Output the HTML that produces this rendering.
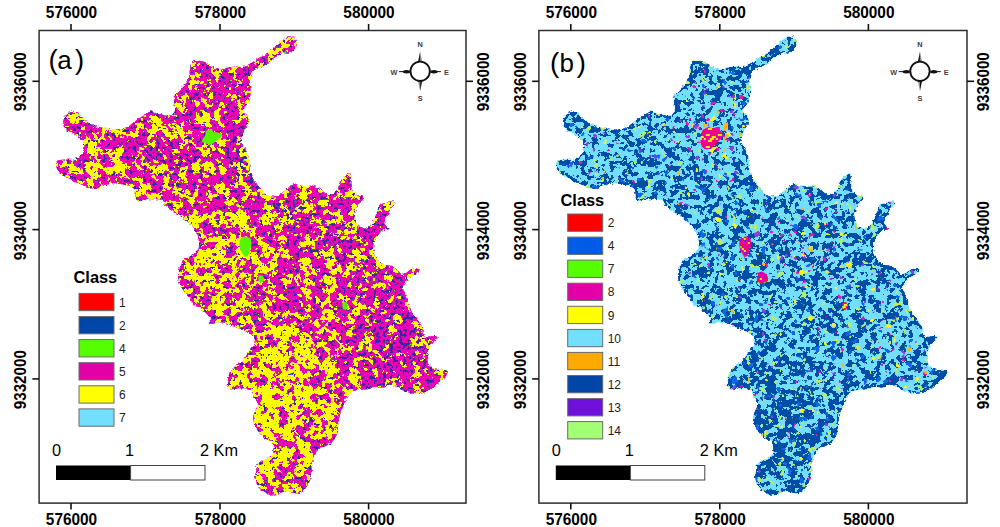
<!DOCTYPE html>
<html><head><meta charset="utf-8"><title>Classification maps</title>
<style>
html,body{margin:0;padding:0;background:#fff;width:1000px;height:527px;overflow:hidden}
svg{display:block}
text{font-family:"Liberation Sans",sans-serif}
</style></head><body>
<svg width="1000" height="527" viewBox="0 0 1000 527">
<defs>
<filter id="soft" x="-10%" y="-10%" width="120%" height="120%"><feGaussianBlur stdDeviation="0.6"/></filter>
<pattern id="hot1" width="12" height="12" patternUnits="userSpaceOnUse"><rect x="0" y="0" width="2" height="2" fill="#E600A9"/><rect x="2" y="0" width="2" height="2" fill="#E600A9"/><rect x="4" y="0" width="2" height="2" fill="#FF1040"/><rect x="6" y="0" width="2" height="2" fill="#E600A9"/><rect x="8" y="0" width="2" height="2" fill="#E600A9"/><rect x="10" y="0" width="2" height="2" fill="#FF1040"/><rect x="0" y="2" width="2" height="2" fill="#E600A9"/><rect x="2" y="2" width="2" height="2" fill="#F0F000"/><rect x="4" y="2" width="2" height="2" fill="#F0F000"/><rect x="6" y="2" width="2" height="2" fill="#E600A9"/><rect x="8" y="2" width="2" height="2" fill="#FF1040"/><rect x="10" y="2" width="2" height="2" fill="#E600A9"/><rect x="0" y="4" width="2" height="2" fill="#E600A9"/><rect x="2" y="4" width="2" height="2" fill="#E600A9"/><rect x="4" y="4" width="2" height="2" fill="#E600A9"/><rect x="6" y="4" width="2" height="2" fill="#E600A9"/><rect x="8" y="4" width="2" height="2" fill="#F0F000"/><rect x="10" y="4" width="2" height="2" fill="#F0F000"/><rect x="0" y="6" width="2" height="2" fill="#F0F000"/><rect x="2" y="6" width="2" height="2" fill="#E600A9"/><rect x="4" y="6" width="2" height="2" fill="#E600A9"/><rect x="6" y="6" width="2" height="2" fill="#F0F000"/><rect x="8" y="6" width="2" height="2" fill="#F0F000"/><rect x="10" y="6" width="2" height="2" fill="#E600A9"/><rect x="0" y="8" width="2" height="2" fill="#E600A9"/><rect x="2" y="8" width="2" height="2" fill="#E600A9"/><rect x="4" y="8" width="2" height="2" fill="#F0F000"/><rect x="6" y="8" width="2" height="2" fill="#F0F000"/><rect x="8" y="8" width="2" height="2" fill="#FF1040"/><rect x="10" y="8" width="2" height="2" fill="#E600A9"/><rect x="0" y="10" width="2" height="2" fill="#FF1040"/><rect x="2" y="10" width="2" height="2" fill="#E600A9"/><rect x="4" y="10" width="2" height="2" fill="#E600A9"/><rect x="6" y="10" width="2" height="2" fill="#E600A9"/><rect x="8" y="10" width="2" height="2" fill="#FF1040"/><rect x="10" y="10" width="2" height="2" fill="#E600A9"/></pattern><pattern id="hot2" width="12" height="12" patternUnits="userSpaceOnUse"><rect x="0" y="0" width="2" height="2" fill="#8020D0"/><rect x="2" y="0" width="2" height="2" fill="#FF1040"/><rect x="4" y="0" width="2" height="2" fill="#8020D0"/><rect x="6" y="0" width="2" height="2" fill="#8020D0"/><rect x="8" y="0" width="2" height="2" fill="#E600A9"/><rect x="10" y="0" width="2" height="2" fill="#E600A9"/><rect x="0" y="2" width="2" height="2" fill="#FF1040"/><rect x="2" y="2" width="2" height="2" fill="#E600A9"/><rect x="4" y="2" width="2" height="2" fill="#E600A9"/><rect x="6" y="2" width="2" height="2" fill="#E600A9"/><rect x="8" y="2" width="2" height="2" fill="#F0F000"/><rect x="10" y="2" width="2" height="2" fill="#E600A9"/><rect x="0" y="4" width="2" height="2" fill="#E600A9"/><rect x="2" y="4" width="2" height="2" fill="#FF1040"/><rect x="4" y="4" width="2" height="2" fill="#E600A9"/><rect x="6" y="4" width="2" height="2" fill="#FF1040"/><rect x="8" y="4" width="2" height="2" fill="#E600A9"/><rect x="10" y="4" width="2" height="2" fill="#E600A9"/><rect x="0" y="6" width="2" height="2" fill="#60E030"/><rect x="2" y="6" width="2" height="2" fill="#E600A9"/><rect x="4" y="6" width="2" height="2" fill="#E600A9"/><rect x="6" y="6" width="2" height="2" fill="#E600A9"/><rect x="8" y="6" width="2" height="2" fill="#FF1040"/><rect x="10" y="6" width="2" height="2" fill="#E600A9"/><rect x="0" y="8" width="2" height="2" fill="#E600A9"/><rect x="2" y="8" width="2" height="2" fill="#F0F000"/><rect x="4" y="8" width="2" height="2" fill="#E600A9"/><rect x="6" y="8" width="2" height="2" fill="#FF1040"/><rect x="8" y="8" width="2" height="2" fill="#8020D0"/><rect x="10" y="8" width="2" height="2" fill="#E600A9"/><rect x="0" y="10" width="2" height="2" fill="#E600A9"/><rect x="2" y="10" width="2" height="2" fill="#E600A9"/><rect x="4" y="10" width="2" height="2" fill="#F0F000"/><rect x="6" y="10" width="2" height="2" fill="#FF1040"/><rect x="8" y="10" width="2" height="2" fill="#E600A9"/><rect x="10" y="10" width="2" height="2" fill="#E600A9"/></pattern>
<clipPath id="clipShape"><path d="M289.0 36.3 L293.5 36.8 L296.4 39.7 L296.9 43.7 L295.8 48.2 L292.4 51.1 L287.8 52.8 L283.3 52.2 L279.8 54.5 L275.3 57.3 L270.7 60.7 L266.2 64.2 L260.5 67.6 L254.8 69.8 L251.4 73.3 L249.6 79.0 L250.0 84.7 L250.7 91.4 L250.2 97.1 L248.5 102.8 L244.5 107.3 L243.3 111.9 L247.3 116.4 L249.0 121.0 L247.3 125.5 L244.5 130.1 L242.8 134.7 L241.2 139.0 L240.3 141.6 L244.9 148.3 L248.2 154.9 L248.9 161.6 L249.6 169.5 L251.6 176.2 L255.5 181.5 L259.5 188.1 L264.8 193.4 L271.5 196.8 L278.1 196.1 L284.8 190.8 L290.1 186.1 L294.0 182.9 L299.3 185.6 L305.9 186.2 L312.6 185.6 L317.9 187.6 L323.2 191.6 L328.5 195.5 L333.8 193.6 L337.8 188.9 L339.8 182.3 L342.5 178.3 L345.8 175.0 L349.8 173.6 L351.1 177.0 L350.4 182.3 L351.1 187.6 L353.7 192.9 L357.7 195.5 L362.5 196.3 L363.7 199.1 L359.1 203.7 L355.7 209.4 L354.6 216.2 L355.7 223.0 L359.1 226.4 L363.7 228.7 L368.2 227.6 L372.8 223.0 L375.0 217.3 L377.3 211.6 L378.5 205.9 L380.7 203.7 L386.4 203.1 L389.8 201.4 L393.3 201.4 L395.5 203.7 L392.1 207.1 L389.8 210.5 L386.4 216.2 L384.2 221.9 L386.4 226.4 L389.8 228.7 L387.6 229.8 L383.0 229.8 L379.6 233.3 L376.2 237.8 L373.9 242.4 L373.0 249.1 L375.2 254.8 L378.7 261.6 L383.2 265.0 L388.9 265.0 L393.5 267.3 L398.0 270.7 L401.4 274.2 L406.0 273.0 L410.5 269.6 L415.1 267.9 L419.7 269.0 L418.5 272.4 L414.0 275.3 L408.3 278.7 L403.7 283.3 L402.6 287.8 L404.8 293.5 L407.5 301.8 L409.8 308.7 L413.2 314.4 L416.6 318.9 L420.0 323.5 L422.9 328.0 L422.3 332.6 L424.6 337.1 L429.2 336.6 L434.8 336.0 L437.7 337.1 L434.8 340.5 L431.4 345.1 L428.5 350.0 L426.9 356.4 L428.0 363.2 L430.3 367.8 L434.8 369.5 L440.5 370.0 L445.1 369.5 L447.9 371.8 L446.2 375.7 L442.8 379.2 L438.3 382.6 L433.7 387.1 L429.2 390.5 L423.5 392.8 L417.8 394.0 L412.1 393.4 L406.4 391.7 L400.7 389.4 L395.5 385.5 L389.7 384.4 L385.1 387.2 L380.5 387.8 L376.0 386.6 L371.4 387.8 L366.9 389.5 L361.2 389.5 L355.5 390.6 L350.9 392.3 L347.5 395.7 L345.2 400.3 L343.0 406.0 L340.7 411.7 L339.6 417.4 L338.5 421.0 L337.8 426.8 L337.2 433.7 L334.4 439.4 L329.8 443.9 L324.2 446.8 L319.6 448.5 L315.5 452.5 L313.0 458.5 L311.3 465.2 L312.1 471.9 L311.3 477.6 L308.7 483.2 L305.3 488.9 L301.9 492.3 L296.2 493.5 L290.5 492.3 L284.8 491.2 L279.1 493.5 L274.6 494.4 L268.9 494.6 L263.2 491.8 L258.7 487.8 L256.4 482.1 L255.2 476.4 L256.4 470.7 L256.4 464.5 L260.9 461.6 L267.8 458.2 L273.5 453.7 L273.5 446.8 L271.2 441.0 L265.2 438.7 L259.8 433.4 L255.9 428.1 L253.9 422.8 L253.2 416.2 L255.9 409.5 L258.5 404.2 L254.5 397.6 L251.9 390.9 L246.6 388.3 L238.6 388.3 L230.6 389.6 L226.6 385.6 L228.5 377.0 L229.9 371.3 L234.5 366.8 L240.5 362.2 L245.1 357.7 L248.1 353.1 L252.7 347.0 L255.7 342.5 L254.2 336.4 L248.1 332.6 L240.5 328.8 L231.4 325.8 L225.3 322.8 L217.8 322.0 L214.0 323.8 L208.5 323.8 L211.2 318.8 L204.1 311.2 L199.0 307.6 L195.0 305.8 L191.6 301.2 L188.2 296.7 L184.8 292.1 L181.4 287.6 L179.1 281.9 L178.0 276.2 L179.1 270.5 L180.2 264.8 L183.7 260.2 L189.4 256.8 L195.0 253.4 L198.5 250.0 L199.2 242.8 L198.0 236.0 L195.7 230.3 L191.2 224.6 L185.5 220.0 L179.8 215.5 L174.1 212.1 L168.4 208.7 L165.0 204.1 L163.0 200.1 L158.4 199.3 L153.9 199.3 L149.3 199.3 L144.7 199.3 L141.0 200.8 L137.1 201.6 L135.6 197.8 L135.6 192.5 L133.4 187.9 L129.6 185.6 L125.0 184.9 L120.0 184.0 L115.0 183.0 L110.0 184.0 L105.0 185.0 L100.0 187.0 L95.0 189.0 L90.0 188.0 L85.0 186.0 L80.0 184.0 L75.0 182.0 L70.0 179.0 L65.0 176.0 L60.0 173.0 L57.0 169.0 L56.0 165.0 L57.0 162.0 L60.0 160.0 L65.0 159.5 L73.0 160.0 L78.0 158.0 L83.0 153.0 L84.6 147.1 L83.0 141.4 L78.5 136.9 L72.8 133.5 L67.1 130.0 L63.7 126.6 L63.1 120.9 L64.8 116.4 L68.2 113.0 L73.9 111.3 L78.5 112.4 L80.7 116.4 L84.2 119.8 L89.8 123.2 L95.5 126.1 L101.2 127.8 L106.9 128.9 L113.4 130.1 L120.7 129.1 L128.0 127.0 L134.2 121.8 L140.5 117.6 L146.8 113.4 L150.9 111.3 L156.1 113.4 L161.4 114.4 L166.6 115.5 L171.8 115.5 L174.9 111.3 L174.9 106.1 L173.9 100.9 L174.9 95.7 L178.1 91.5 L182.2 87.3 L186.4 83.1 L188.5 80.0 L189.3 75.2 L190.0 69.9 L190.6 64.6 L193.3 61.3 L198.6 60.6 L203.9 62.0 L209.2 64.6 L214.5 67.9 L219.8 69.9 L223.8 68.6 L229.1 67.3 L235.8 66.6 L242.4 67.3 L246.4 65.3 L251.4 63.0 L257.1 59.0 L262.8 55.6 L268.5 52.2 L274.2 47.1 L279.8 42.5 L284.4 39.1Z"/></clipPath>
<filter id="texA" x="39" y="30" width="428" height="474" filterUnits="userSpaceOnUse" color-interpolation-filters="sRGB">
  <feTurbulence type="fractalNoise" baseFrequency="0.3" numOctaves="2" seed="9" result="dn"/>
  <feDisplacementMap in="SourceGraphic" in2="dn" scale="4" xChannelSelector="R" yChannelSelector="G" result="SG"/>
  <feTurbulence type="fractalNoise" baseFrequency="0.19" numOctaves="3" seed="7" result="nz"/>
  <feColorMatrix in="nz" type="matrix" values="1 0 0 0 0  0 1 0 0 0  0 0 1 0 0  0 0 0 0 1" result="n1a"/>
  <feTurbulence type="fractalNoise" baseFrequency="0.08" numOctaves="3" seed="17" result="nzb"/>
  <feColorMatrix in="nzb" type="matrix" values="1 0 0 0 0  0 1 0 0 0  0 0 1 0 0  0 0 0 0 1" result="n1b"/>
  <feComposite in="n1a" in2="n1b" operator="arithmetic" k1="0" k2="0.62" k3="0.68" k4="-0.15" result="n1"/>
  <feTurbulence type="fractalNoise" baseFrequency="0.3" numOctaves="2" seed="3" result="nz2"/>
  <feColorMatrix in="nz2" type="matrix" values="1 0 0 0 0  0 1 0 0 0  0 0 1 0 0  0 0 0 0 1" result="n2"/>
  <feComposite in="n1" in2="SG" operator="arithmetic" k1="0" k2="1" k3="1" k4="-0.5" result="sum"/>
  <feColorMatrix in="sum" type="matrix" values="1 0 0 0 0  1 0 0 0 0  1 0 0 0 0  0 0 0 0 1" result="r"/>
  <feComponentTransfer in="r" result="two">
    <feFuncR type="discrete" tableValues="0.91 1"/>
    <feFuncG type="discrete" tableValues="0.03 1"/>
    <feFuncB type="discrete" tableValues="0.7 0"/>
  </feComponentTransfer>
  <feColorMatrix in="sum" type="matrix" values="0 0 0 0 0  -1 0 0 0 1  0 0 0 0 0  0 0 0 0 1" result="inv"/>
  <feComposite in="n2" in2="inv" operator="arithmetic" k1="0" k2="1" k3="0.3" k4="-0.15" result="comb0"/>
  <feColorMatrix in="SG" type="matrix" values="0 1 0 0 0  0 1 0 0 0  0 1 0 0 0  0 0 0 0 1" result="srcg"/>
  <feComposite in="comb0" in2="srcg" operator="arithmetic" k1="0" k2="1" k3="1" k4="-0.5" result="comb"/>
  <feColorMatrix in="comb" type="matrix" values="0 0 0 0 0.22  0 0 0 0 0.15  0 0 0 0 0.64  0 30 0 0 -18.9" result="blu"/>
  <feComposite in="blu" in2="two" operator="over" result="c3"/>
  <feColorMatrix in="n2" type="matrix" values="0 0 0 0 0.35  0 0 0 0 0.95  0 0 0 0 0.1  0 0 30 0 -23.6" result="grn"/>
  <feComposite in="grn" in2="c3" operator="over" result="c4"/>
  <feGaussianBlur in="c4" stdDeviation="0.5" result="bl"/>
  <feComposite in="bl" in2="SG" operator="in"/>
</filter>
<filter id="texB" x="39" y="30" width="430" height="474" filterUnits="userSpaceOnUse" color-interpolation-filters="sRGB">
  <feTurbulence type="fractalNoise" baseFrequency="0.3" numOctaves="2" seed="9" result="dn"/>
  <feDisplacementMap in="SourceGraphic" in2="dn" scale="4" xChannelSelector="R" yChannelSelector="G" result="SG"/>
  <feTurbulence type="fractalNoise" baseFrequency="0.21" numOctaves="3" seed="11" result="nz"/>
  <feColorMatrix in="nz" type="matrix" values="1 0 0 0 0  0 1 0 0 0  0 0 1 0 0  0 0 0 0 1" result="n1a"/>
  <feTurbulence type="fractalNoise" baseFrequency="0.09" numOctaves="3" seed="21" result="nzb"/>
  <feColorMatrix in="nzb" type="matrix" values="1 0 0 0 0  0 1 0 0 0  0 0 1 0 0  0 0 0 0 1" result="n1b"/>
  <feComposite in="n1a" in2="n1b" operator="arithmetic" k1="0" k2="0.7" k3="0.6" k4="-0.15" result="n1"/>
  <feTurbulence type="fractalNoise" baseFrequency="0.13" numOctaves="2" seed="5" result="nz2"/>
  <feColorMatrix in="nz2" type="matrix" values="1 0 0 0 0  0 1 0 0 0  0 0 1 0 0  0 0 0 0 1" result="n2"/>
  <feColorMatrix in="nz2" type="matrix" values="0 0 0 1 0  0 0 0 1 0  0 0 0 1 0  0 0 0 0 1" result="n2a"/>
  <feColorMatrix in="SG" type="matrix" values="0 1 0 0 0  0 1 0 0 0  0 1 0 0 0  0 0 0 0 1" result="spd"/>
  <feComposite in="n2" in2="spd" operator="arithmetic" k1="0" k2="1" k3="1" k4="-0.5" result="n2b"/>
  <feComposite in="n2a" in2="spd" operator="arithmetic" k1="0" k2="1" k3="1" k4="-0.5" result="n2ab"/>
  <feComposite in="n1" in2="SG" operator="arithmetic" k1="0" k2="1" k3="1" k4="-0.5" result="sum"/>
  <feColorMatrix in="sum" type="matrix" values="1 0 0 0 0  1 0 0 0 0  1 0 0 0 0  0 0 0 0 1" result="r"/>
  <feComponentTransfer in="r" result="two">
    <feFuncR type="discrete" tableValues="0.451 0"/>
    <feFuncG type="discrete" tableValues="0.875 0.302"/>
    <feFuncB type="discrete" tableValues="1 0.659"/>
  </feComponentTransfer>
  <feColorMatrix in="n2b" type="matrix" values="0 0 0 0 0.88  0 0 0 0 0.1  0 0 0 0 0.68  30 0 0 0 -22.8" result="s1"/>
  <feComposite in="s1" in2="two" operator="over" result="c1"/>
  <feColorMatrix in="n2b" type="matrix" values="0 0 0 0 0.95  0 0 0 0 0.95  0 0 0 0 0.15  0 30 0 0 -22.5" result="s2"/>
  <feComposite in="s2" in2="c1" operator="over" result="c2"/>
  <feColorMatrix in="n2b" type="matrix" values="0 0 0 0 1  0 0 0 0 0.7  0 0 0 0 0.1  0 0 30 0 -24" result="s3"/>
  <feComposite in="s3" in2="c2" operator="over" result="c3"/>
  <feColorMatrix in="n2ab" type="matrix" values="0 0 0 0 0.55  0 0 0 0 0.25  0 0 0 0 0.85  30 0 0 0 -23.1" result="s4"/>
  <feComposite in="s4" in2="c3" operator="over" result="c4"/>
  <feColorMatrix in="n2b" type="matrix" values="0 0 0 0 0.72  0 0 0 0 0.92  0 0 0 0 0.42  -30 0 0 0 9.3" result="s5"/>
  <feComposite in="s5" in2="c4" operator="over" result="c5"/>
  <feColorMatrix in="n2b" type="matrix" values="0 0 0 0 0.06  0 0 0 0 0.4  0 0 0 0 0.9  0 -30 0 0 9.3" result="s6"/>
  <feComposite in="s6" in2="c5" operator="over" result="c6"/>
  <feGaussianBlur in="c6" stdDeviation="0.5" result="bl"/>
  <feComposite in="bl" in2="SG" operator="in"/>
</filter>
</defs>
<rect width="1000" height="527" fill="#fff"/>
<g id="pa">
<g filter="url(#texA)">
<path d="M289.0 36.3 L293.5 36.8 L296.4 39.7 L296.9 43.7 L295.8 48.2 L292.4 51.1 L287.8 52.8 L283.3 52.2 L279.8 54.5 L275.3 57.3 L270.7 60.7 L266.2 64.2 L260.5 67.6 L254.8 69.8 L251.4 73.3 L249.6 79.0 L250.0 84.7 L250.7 91.4 L250.2 97.1 L248.5 102.8 L244.5 107.3 L243.3 111.9 L247.3 116.4 L249.0 121.0 L247.3 125.5 L244.5 130.1 L242.8 134.7 L241.2 139.0 L240.3 141.6 L244.9 148.3 L248.2 154.9 L248.9 161.6 L249.6 169.5 L251.6 176.2 L255.5 181.5 L259.5 188.1 L264.8 193.4 L271.5 196.8 L278.1 196.1 L284.8 190.8 L290.1 186.1 L294.0 182.9 L299.3 185.6 L305.9 186.2 L312.6 185.6 L317.9 187.6 L323.2 191.6 L328.5 195.5 L333.8 193.6 L337.8 188.9 L339.8 182.3 L342.5 178.3 L345.8 175.0 L349.8 173.6 L351.1 177.0 L350.4 182.3 L351.1 187.6 L353.7 192.9 L357.7 195.5 L362.5 196.3 L363.7 199.1 L359.1 203.7 L355.7 209.4 L354.6 216.2 L355.7 223.0 L359.1 226.4 L363.7 228.7 L368.2 227.6 L372.8 223.0 L375.0 217.3 L377.3 211.6 L378.5 205.9 L380.7 203.7 L386.4 203.1 L389.8 201.4 L393.3 201.4 L395.5 203.7 L392.1 207.1 L389.8 210.5 L386.4 216.2 L384.2 221.9 L386.4 226.4 L389.8 228.7 L387.6 229.8 L383.0 229.8 L379.6 233.3 L376.2 237.8 L373.9 242.4 L373.0 249.1 L375.2 254.8 L378.7 261.6 L383.2 265.0 L388.9 265.0 L393.5 267.3 L398.0 270.7 L401.4 274.2 L406.0 273.0 L410.5 269.6 L415.1 267.9 L419.7 269.0 L418.5 272.4 L414.0 275.3 L408.3 278.7 L403.7 283.3 L402.6 287.8 L404.8 293.5 L407.5 301.8 L409.8 308.7 L413.2 314.4 L416.6 318.9 L420.0 323.5 L422.9 328.0 L422.3 332.6 L424.6 337.1 L429.2 336.6 L434.8 336.0 L437.7 337.1 L434.8 340.5 L431.4 345.1 L428.5 350.0 L426.9 356.4 L428.0 363.2 L430.3 367.8 L434.8 369.5 L440.5 370.0 L445.1 369.5 L447.9 371.8 L446.2 375.7 L442.8 379.2 L438.3 382.6 L433.7 387.1 L429.2 390.5 L423.5 392.8 L417.8 394.0 L412.1 393.4 L406.4 391.7 L400.7 389.4 L395.5 385.5 L389.7 384.4 L385.1 387.2 L380.5 387.8 L376.0 386.6 L371.4 387.8 L366.9 389.5 L361.2 389.5 L355.5 390.6 L350.9 392.3 L347.5 395.7 L345.2 400.3 L343.0 406.0 L340.7 411.7 L339.6 417.4 L338.5 421.0 L337.8 426.8 L337.2 433.7 L334.4 439.4 L329.8 443.9 L324.2 446.8 L319.6 448.5 L315.5 452.5 L313.0 458.5 L311.3 465.2 L312.1 471.9 L311.3 477.6 L308.7 483.2 L305.3 488.9 L301.9 492.3 L296.2 493.5 L290.5 492.3 L284.8 491.2 L279.1 493.5 L274.6 494.4 L268.9 494.6 L263.2 491.8 L258.7 487.8 L256.4 482.1 L255.2 476.4 L256.4 470.7 L256.4 464.5 L260.9 461.6 L267.8 458.2 L273.5 453.7 L273.5 446.8 L271.2 441.0 L265.2 438.7 L259.8 433.4 L255.9 428.1 L253.9 422.8 L253.2 416.2 L255.9 409.5 L258.5 404.2 L254.5 397.6 L251.9 390.9 L246.6 388.3 L238.6 388.3 L230.6 389.6 L226.6 385.6 L228.5 377.0 L229.9 371.3 L234.5 366.8 L240.5 362.2 L245.1 357.7 L248.1 353.1 L252.7 347.0 L255.7 342.5 L254.2 336.4 L248.1 332.6 L240.5 328.8 L231.4 325.8 L225.3 322.8 L217.8 322.0 L214.0 323.8 L208.5 323.8 L211.2 318.8 L204.1 311.2 L199.0 307.6 L195.0 305.8 L191.6 301.2 L188.2 296.7 L184.8 292.1 L181.4 287.6 L179.1 281.9 L178.0 276.2 L179.1 270.5 L180.2 264.8 L183.7 260.2 L189.4 256.8 L195.0 253.4 L198.5 250.0 L199.2 242.8 L198.0 236.0 L195.7 230.3 L191.2 224.6 L185.5 220.0 L179.8 215.5 L174.1 212.1 L168.4 208.7 L165.0 204.1 L163.0 200.1 L158.4 199.3 L153.9 199.3 L149.3 199.3 L144.7 199.3 L141.0 200.8 L137.1 201.6 L135.6 197.8 L135.6 192.5 L133.4 187.9 L129.6 185.6 L125.0 184.9 L120.0 184.0 L115.0 183.0 L110.0 184.0 L105.0 185.0 L100.0 187.0 L95.0 189.0 L90.0 188.0 L85.0 186.0 L80.0 184.0 L75.0 182.0 L70.0 179.0 L65.0 176.0 L60.0 173.0 L57.0 169.0 L56.0 165.0 L57.0 162.0 L60.0 160.0 L65.0 159.5 L73.0 160.0 L78.0 158.0 L83.0 153.0 L84.6 147.1 L83.0 141.4 L78.5 136.9 L72.8 133.5 L67.1 130.0 L63.7 126.6 L63.1 120.9 L64.8 116.4 L68.2 113.0 L73.9 111.3 L78.5 112.4 L80.7 116.4 L84.2 119.8 L89.8 123.2 L95.5 126.1 L101.2 127.8 L106.9 128.9 L113.4 130.1 L120.7 129.1 L128.0 127.0 L134.2 121.8 L140.5 117.6 L146.8 113.4 L150.9 111.3 L156.1 113.4 L161.4 114.4 L166.6 115.5 L171.8 115.5 L174.9 111.3 L174.9 106.1 L173.9 100.9 L174.9 95.7 L178.1 91.5 L182.2 87.3 L186.4 83.1 L188.5 80.0 L189.3 75.2 L190.0 69.9 L190.6 64.6 L193.3 61.3 L198.6 60.6 L203.9 62.0 L209.2 64.6 L214.5 67.9 L219.8 69.9 L223.8 68.6 L229.1 67.3 L235.8 66.6 L242.4 67.3 L246.4 65.3 L251.4 63.0 L257.1 59.0 L262.8 55.6 L268.5 52.2 L274.2 47.1 L279.8 42.5 L284.4 39.1Z" fill="rgb(119,126,128)"/>
<g clip-path="url(#clipShape)">
<radialGradient id="bg1"><stop offset="0" stop-color="rgb(152,122,128)" stop-opacity="1.0"/><stop offset="1" stop-color="rgb(152,122,128)" stop-opacity="0"/></radialGradient><ellipse cx="260" cy="430" rx="85" ry="100" fill="url(#bg1)"/>
<radialGradient id="bg2"><stop offset="0" stop-color="rgb(150,124,128)" stop-opacity="1.0"/><stop offset="1" stop-color="rgb(150,124,128)" stop-opacity="0"/></radialGradient><ellipse cx="285" cy="365" rx="55" ry="45" fill="url(#bg2)"/>
<radialGradient id="bg3"><stop offset="0" stop-color="rgb(135,126,128)" stop-opacity="1.0"/><stop offset="1" stop-color="rgb(135,126,128)" stop-opacity="0"/></radialGradient><ellipse cx="220" cy="265" rx="60" ry="70" fill="url(#bg3)"/>
<radialGradient id="bg4"><stop offset="0" stop-color="rgb(124,128,128)" stop-opacity="1.0"/><stop offset="1" stop-color="rgb(124,128,128)" stop-opacity="0"/></radialGradient><ellipse cx="95" cy="160" rx="45" ry="35" fill="url(#bg4)"/>
<radialGradient id="bg5"><stop offset="0" stop-color="rgb(110,138,128)" stop-opacity="1.0"/><stop offset="1" stop-color="rgb(110,138,128)" stop-opacity="0"/></radialGradient><ellipse cx="175" cy="168" rx="45" ry="32" fill="url(#bg5)"/>
<radialGradient id="bg6"><stop offset="0" stop-color="rgb(110,124,128)" stop-opacity="1.0"/><stop offset="1" stop-color="rgb(110,124,128)" stop-opacity="0"/></radialGradient><ellipse cx="215" cy="105" rx="45" ry="60" fill="url(#bg6)"/>
<radialGradient id="bg7"><stop offset="0" stop-color="rgb(118,160,128)" stop-opacity="1.0"/><stop offset="1" stop-color="rgb(118,160,128)" stop-opacity="0"/></radialGradient><ellipse cx="243" cy="160" rx="18" ry="45" fill="url(#bg7)"/>
<radialGradient id="bg8"><stop offset="0" stop-color="rgb(118,150,128)" stop-opacity="1.0"/><stop offset="1" stop-color="rgb(118,150,128)" stop-opacity="0"/></radialGradient><ellipse cx="285" cy="210" rx="30" ry="20" fill="url(#bg8)"/>
<radialGradient id="bg9"><stop offset="0" stop-color="rgb(114,136,128)" stop-opacity="1.0"/><stop offset="1" stop-color="rgb(114,136,128)" stop-opacity="0"/></radialGradient><ellipse cx="335" cy="240" rx="55" ry="55" fill="url(#bg9)"/>
<radialGradient id="bg10"><stop offset="0" stop-color="rgb(94,142,128)" stop-opacity="1.0"/><stop offset="1" stop-color="rgb(94,142,128)" stop-opacity="0"/></radialGradient><ellipse cx="400" cy="335" rx="62" ry="72" fill="url(#bg10)"/>
<path d="M289.0 36.3 L293.5 36.8 L296.4 39.7 L296.9 43.7 L295.8 48.2 L292.4 51.1 L287.8 52.8 L283.3 52.2 L279.8 54.5 L275.3 57.3 L270.7 60.7 L266.2 64.2 L260.5 67.6 L254.8 69.8 L251.4 73.3 L249.6 79.0 L250.0 84.7 L250.7 91.4 L250.2 97.1 L248.5 102.8 L244.5 107.3 L243.3 111.9 L247.3 116.4 L249.0 121.0 L247.3 125.5 L244.5 130.1 L242.8 134.7 L241.2 139.0 L240.3 141.6 L244.9 148.3 L248.2 154.9 L248.9 161.6 L249.6 169.5 L251.6 176.2 L255.5 181.5 L259.5 188.1 L264.8 193.4 L271.5 196.8 L278.1 196.1 L284.8 190.8 L290.1 186.1 L294.0 182.9 L299.3 185.6 L305.9 186.2 L312.6 185.6 L317.9 187.6 L323.2 191.6 L328.5 195.5 L333.8 193.6 L337.8 188.9 L339.8 182.3 L342.5 178.3 L345.8 175.0 L349.8 173.6 L351.1 177.0 L350.4 182.3 L351.1 187.6 L353.7 192.9 L357.7 195.5 L362.5 196.3 L363.7 199.1 L359.1 203.7 L355.7 209.4 L354.6 216.2 L355.7 223.0 L359.1 226.4 L363.7 228.7 L368.2 227.6 L372.8 223.0 L375.0 217.3 L377.3 211.6 L378.5 205.9 L380.7 203.7 L386.4 203.1 L389.8 201.4 L393.3 201.4 L395.5 203.7 L392.1 207.1 L389.8 210.5 L386.4 216.2 L384.2 221.9 L386.4 226.4 L389.8 228.7 L387.6 229.8 L383.0 229.8 L379.6 233.3 L376.2 237.8 L373.9 242.4 L373.0 249.1 L375.2 254.8 L378.7 261.6 L383.2 265.0 L388.9 265.0 L393.5 267.3 L398.0 270.7 L401.4 274.2 L406.0 273.0 L410.5 269.6 L415.1 267.9 L419.7 269.0 L418.5 272.4 L414.0 275.3 L408.3 278.7 L403.7 283.3 L402.6 287.8 L404.8 293.5 L407.5 301.8 L409.8 308.7 L413.2 314.4 L416.6 318.9 L420.0 323.5 L422.9 328.0 L422.3 332.6 L424.6 337.1 L429.2 336.6 L434.8 336.0 L437.7 337.1 L434.8 340.5 L431.4 345.1 L428.5 350.0 L426.9 356.4 L428.0 363.2 L430.3 367.8 L434.8 369.5 L440.5 370.0 L445.1 369.5 L447.9 371.8 L446.2 375.7 L442.8 379.2 L438.3 382.6 L433.7 387.1 L429.2 390.5 L423.5 392.8 L417.8 394.0 L412.1 393.4 L406.4 391.7 L400.7 389.4 L395.5 385.5 L389.7 384.4 L385.1 387.2 L380.5 387.8 L376.0 386.6 L371.4 387.8 L366.9 389.5 L361.2 389.5 L355.5 390.6 L350.9 392.3 L347.5 395.7 L345.2 400.3 L343.0 406.0 L340.7 411.7 L339.6 417.4 L338.5 421.0 L337.8 426.8 L337.2 433.7 L334.4 439.4 L329.8 443.9 L324.2 446.8 L319.6 448.5 L315.5 452.5 L313.0 458.5 L311.3 465.2 L312.1 471.9 L311.3 477.6 L308.7 483.2 L305.3 488.9 L301.9 492.3 L296.2 493.5 L290.5 492.3 L284.8 491.2 L279.1 493.5 L274.6 494.4 L268.9 494.6 L263.2 491.8 L258.7 487.8 L256.4 482.1 L255.2 476.4 L256.4 470.7 L256.4 464.5 L260.9 461.6 L267.8 458.2 L273.5 453.7 L273.5 446.8 L271.2 441.0 L265.2 438.7 L259.8 433.4 L255.9 428.1 L253.9 422.8 L253.2 416.2 L255.9 409.5 L258.5 404.2 L254.5 397.6 L251.9 390.9 L246.6 388.3 L238.6 388.3 L230.6 389.6 L226.6 385.6 L228.5 377.0 L229.9 371.3 L234.5 366.8 L240.5 362.2 L245.1 357.7 L248.1 353.1 L252.7 347.0 L255.7 342.5 L254.2 336.4 L248.1 332.6 L240.5 328.8 L231.4 325.8 L225.3 322.8 L217.8 322.0 L214.0 323.8 L208.5 323.8 L211.2 318.8 L204.1 311.2 L199.0 307.6 L195.0 305.8 L191.6 301.2 L188.2 296.7 L184.8 292.1 L181.4 287.6 L179.1 281.9 L178.0 276.2 L179.1 270.5 L180.2 264.8 L183.7 260.2 L189.4 256.8 L195.0 253.4 L198.5 250.0 L199.2 242.8 L198.0 236.0 L195.7 230.3 L191.2 224.6 L185.5 220.0 L179.8 215.5 L174.1 212.1 L168.4 208.7 L165.0 204.1 L163.0 200.1 L158.4 199.3 L153.9 199.3 L149.3 199.3 L144.7 199.3 L141.0 200.8 L137.1 201.6 L135.6 197.8 L135.6 192.5 L133.4 187.9 L129.6 185.6 L125.0 184.9 L120.0 184.0 L115.0 183.0 L110.0 184.0 L105.0 185.0 L100.0 187.0 L95.0 189.0 L90.0 188.0 L85.0 186.0 L80.0 184.0 L75.0 182.0 L70.0 179.0 L65.0 176.0 L60.0 173.0 L57.0 169.0 L56.0 165.0 L57.0 162.0 L60.0 160.0 L65.0 159.5 L73.0 160.0 L78.0 158.0 L83.0 153.0 L84.6 147.1 L83.0 141.4 L78.5 136.9 L72.8 133.5 L67.1 130.0 L63.7 126.6 L63.1 120.9 L64.8 116.4 L68.2 113.0 L73.9 111.3 L78.5 112.4 L80.7 116.4 L84.2 119.8 L89.8 123.2 L95.5 126.1 L101.2 127.8 L106.9 128.9 L113.4 130.1 L120.7 129.1 L128.0 127.0 L134.2 121.8 L140.5 117.6 L146.8 113.4 L150.9 111.3 L156.1 113.4 L161.4 114.4 L166.6 115.5 L171.8 115.5 L174.9 111.3 L174.9 106.1 L173.9 100.9 L174.9 95.7 L178.1 91.5 L182.2 87.3 L186.4 83.1 L188.5 80.0 L189.3 75.2 L190.0 69.9 L190.6 64.6 L193.3 61.3 L198.6 60.6 L203.9 62.0 L209.2 64.6 L214.5 67.9 L219.8 69.9 L223.8 68.6 L229.1 67.3 L235.8 66.6 L242.4 67.3 L246.4 65.3 L251.4 63.0 L257.1 59.0 L262.8 55.6 L268.5 52.2 L274.2 47.1 L279.8 42.5 L284.4 39.1Z" fill="none" stroke="rgb(122,134,128)" stroke-width="4" stroke-opacity="0.5"/>
</g></g>
<g filter="url(#soft)">
<path d="M206.0 130.9 L209.7 129.3 L211.8 128.8 L213.4 132.5 L215.5 132.0 L219.2 133.0 L221.9 134.1 L222.4 135.7 L220.3 137.8 L217.7 139.9 L215.0 142.1 L212.9 143.6 L210.7 144.7 L208.6 144.2 L206.0 143.6 L203.3 142.6 L201.7 141.0 L202.8 138.9 L204.4 136.7 L205.4 134.6Z" fill="#55F500" />
<path d="M241.7 237.1 L247.0 236.4 L250.8 238.7 L251.6 243.2 L250.8 247.8 L249.3 252.3 L247.8 256.1 L244.7 256.9 L242.5 253.8 L240.2 249.3 L239.4 244.7 L239.8 240.2Z" fill="#55F500" />
<path d="M258.5 275.0 L263.0 276.0 L264.8 280.0 L262.0 282.8 L258.5 281.0Z" fill="#55F500" />
<path d="M342.5 302.5 L346.5 302.0 L348.0 306.0 L346.0 310.0 L342.5 308.5Z" fill="#55F500" />
</g>
<text font-size="27.5" font-family="'Liberation Sans', sans-serif"><tspan x="48.4" y="69">(</tspan><tspan x="57.2" y="69" font-size="26">a</tspan><tspan x="75" y="69">)</tspan></text>
<path d="M420.15 51.5 L420.15 62.3 L417.95 62.3Z" fill="#111"/>
<path d="M420.15 51.5 L422.34999999999997 62.3 L420.15 62.3Z" fill="#8a8a8a"/>
<path d="M420.15 91.3 L420.15 80.3 L422.34999999999997 80.3Z" fill="#111"/>
<path d="M420.15 91.3 L417.95 80.3 L420.15 80.3Z" fill="#8a8a8a"/>
<line x1="398.95" y1="71.6" x2="406.15" y2="71.6" stroke="#222" stroke-width="1.1"/>
<ellipse cx="406.54999999999995" cy="71.7" rx="3.7" ry="1.7" fill="#111"/>
<line x1="434.15" y1="71.6" x2="440.95" y2="71.6" stroke="#222" stroke-width="1.1"/>
<ellipse cx="433.95" cy="71.7" rx="3.7" ry="1.7" fill="#111"/>
<circle cx="420.15" cy="71.3" r="9.7" fill="#fff" stroke="#111" stroke-width="1.9"/>
<text x="420.15" y="47.0" text-anchor="middle" font-size="7.3" font-weight="bold" font-family="'Liberation Sans', sans-serif" fill="#3a3a3a">N</text>
<text x="420.15" y="101.4" text-anchor="middle" font-size="7.3" font-weight="bold" font-family="'Liberation Sans', sans-serif" fill="#3a3a3a">S</text>
<text x="393.95" y="74.8" text-anchor="middle" font-size="7.3" font-weight="bold" font-family="'Liberation Sans', sans-serif" fill="#444">W</text>
<text x="446.34999999999997" y="74.8" text-anchor="middle" font-size="7.3" font-weight="bold" font-family="'Liberation Sans', sans-serif" fill="#444">E</text>
<rect x="56" y="465.5" width="74.6" height="14.5" fill="#000"/>
<rect x="130.6" y="465.5" width="74.4" height="14.5" fill="#fff" stroke="#444" stroke-width="1"/>
<text x="56.5" y="456.3" text-anchor="middle" font-size="16.3" font-family="'Liberation Sans', sans-serif">0</text>
<text x="129.5" y="456.3" text-anchor="middle" font-size="16.3" font-family="'Liberation Sans', sans-serif">1</text>
<text x="200" y="456.3" font-size="16.3" font-family="'Liberation Sans', sans-serif">2 Km</text>
<text x="73.5" y="282.7" font-size="16.4" font-weight="bold" font-family="'Liberation Sans', sans-serif">Class</text>
<rect x="79" y="293.4" width="35" height="17.3" fill="#FF0000" stroke="#6a6a6a" stroke-width="1"/>
<text x="119" y="306.6" font-size="12" font-family="'Liberation Sans', sans-serif" fill="#222">1</text>
<rect x="79" y="316.5" width="35" height="17.3" fill="#0046A8" stroke="#6a6a6a" stroke-width="1"/>
<text x="119" y="329.7" font-size="12" font-family="'Liberation Sans', sans-serif" fill="#222">2</text>
<rect x="79" y="339.6" width="35" height="17.3" fill="#55FF00" stroke="#6a6a6a" stroke-width="1"/>
<text x="119" y="352.8" font-size="12" font-family="'Liberation Sans', sans-serif" fill="#222">4</text>
<rect x="79" y="362.7" width="35" height="17.3" fill="#E400A8" stroke="#6a6a6a" stroke-width="1"/>
<text x="119" y="375.9" font-size="12" font-family="'Liberation Sans', sans-serif" fill="#222">5</text>
<rect x="79" y="385.8" width="35" height="17.3" fill="#FFFF00" stroke="#6a6a6a" stroke-width="1"/>
<text x="119" y="399.0" font-size="12" font-family="'Liberation Sans', sans-serif" fill="#222">6</text>
<rect x="79" y="408.9" width="35" height="17.3" fill="#73DFFF" stroke="#6a6a6a" stroke-width="1"/>
<text x="119" y="422.1" font-size="12" font-family="'Liberation Sans', sans-serif" fill="#222">7</text><rect x="39.1" y="30.5" width="426.9" height="472.6" fill="none" stroke="#2e2e2e" stroke-width="1.5"/>
<line x1="71" y1="24.0" x2="71" y2="30.5" stroke="#111" stroke-width="1.6"/>
<line x1="71" y1="503.1" x2="71" y2="509.40000000000003" stroke="#111" stroke-width="1.6"/>
<line x1="220" y1="24.0" x2="220" y2="30.5" stroke="#111" stroke-width="1.6"/>
<line x1="220" y1="503.1" x2="220" y2="509.40000000000003" stroke="#111" stroke-width="1.6"/>
<line x1="368.6" y1="24.0" x2="368.6" y2="30.5" stroke="#111" stroke-width="1.6"/>
<line x1="368.6" y1="503.1" x2="368.6" y2="509.40000000000003" stroke="#111" stroke-width="1.6"/>
<line x1="32.4" y1="81.3" x2="39.1" y2="81.3" stroke="#111" stroke-width="1.6"/>
<line x1="466.0" y1="81.3" x2="473.0" y2="81.3" stroke="#111" stroke-width="1.6"/>
<line x1="32.4" y1="229.6" x2="39.1" y2="229.6" stroke="#111" stroke-width="1.6"/>
<line x1="466.0" y1="229.6" x2="473.0" y2="229.6" stroke="#111" stroke-width="1.6"/>
<line x1="32.4" y1="378.9" x2="39.1" y2="378.9" stroke="#111" stroke-width="1.6"/>
<line x1="466.0" y1="378.9" x2="473.0" y2="378.9" stroke="#111" stroke-width="1.6"/>
<text transform="translate(71.5 18) scale(1 1.1)" text-anchor="middle" font-size="15.4" font-weight="bold" font-family="'Liberation Sans', sans-serif">576000</text>
<text transform="translate(71.5 525.2) scale(1 1.1)" text-anchor="middle" font-size="15.4" font-weight="bold" font-family="'Liberation Sans', sans-serif">576000</text>
<text transform="translate(220.4 18) scale(1 1.1)" text-anchor="middle" font-size="15.4" font-weight="bold" font-family="'Liberation Sans', sans-serif">578000</text>
<text transform="translate(220.4 525.2) scale(1 1.1)" text-anchor="middle" font-size="15.4" font-weight="bold" font-family="'Liberation Sans', sans-serif">578000</text>
<text transform="translate(369 18) scale(1 1.1)" text-anchor="middle" font-size="15.4" font-weight="bold" font-family="'Liberation Sans', sans-serif">580000</text>
<text transform="translate(369 525.2) scale(1 1.1)" text-anchor="middle" font-size="15.4" font-weight="bold" font-family="'Liberation Sans', sans-serif">580000</text>
<text transform="translate(26.1 81.8) rotate(-90) scale(1 1.1)" text-anchor="middle" font-size="15.2" font-weight="bold" font-family="'Liberation Sans', sans-serif">9336000</text>
<text transform="translate(488.9 81.8) rotate(-90) scale(1 1.1)" text-anchor="middle" font-size="15.2" font-weight="bold" font-family="'Liberation Sans', sans-serif">9336000</text>
<text transform="translate(26.1 230.6) rotate(-90) scale(1 1.1)" text-anchor="middle" font-size="15.2" font-weight="bold" font-family="'Liberation Sans', sans-serif">9334000</text>
<text transform="translate(488.9 230.6) rotate(-90) scale(1 1.1)" text-anchor="middle" font-size="15.2" font-weight="bold" font-family="'Liberation Sans', sans-serif">9334000</text>
<text transform="translate(26.1 379.7) rotate(-90) scale(1 1.1)" text-anchor="middle" font-size="15.2" font-weight="bold" font-family="'Liberation Sans', sans-serif">9332000</text>
<text transform="translate(488.9 379.7) rotate(-90) scale(1 1.1)" text-anchor="middle" font-size="15.2" font-weight="bold" font-family="'Liberation Sans', sans-serif">9332000</text>
</g>
<g id="pb" transform="translate(499.8 0)">
<g filter="url(#texB)">
<path d="M289.0 36.3 L293.5 36.8 L296.4 39.7 L296.9 43.7 L295.8 48.2 L292.4 51.1 L287.8 52.8 L283.3 52.2 L279.8 54.5 L275.3 57.3 L270.7 60.7 L266.2 64.2 L260.5 67.6 L254.8 69.8 L251.4 73.3 L249.6 79.0 L250.0 84.7 L250.7 91.4 L250.2 97.1 L248.5 102.8 L244.5 107.3 L243.3 111.9 L247.3 116.4 L249.0 121.0 L247.3 125.5 L244.5 130.1 L242.8 134.7 L241.2 139.0 L240.3 141.6 L244.9 148.3 L248.2 154.9 L248.9 161.6 L249.6 169.5 L251.6 176.2 L255.5 181.5 L259.5 188.1 L264.8 193.4 L271.5 196.8 L278.1 196.1 L284.8 190.8 L290.1 186.1 L294.0 182.9 L299.3 185.6 L305.9 186.2 L312.6 185.6 L317.9 187.6 L323.2 191.6 L328.5 195.5 L333.8 193.6 L337.8 188.9 L339.8 182.3 L342.5 178.3 L345.8 175.0 L349.8 173.6 L351.1 177.0 L350.4 182.3 L351.1 187.6 L353.7 192.9 L357.7 195.5 L362.5 196.3 L363.7 199.1 L359.1 203.7 L355.7 209.4 L354.6 216.2 L355.7 223.0 L359.1 226.4 L363.7 228.7 L368.2 227.6 L372.8 223.0 L375.0 217.3 L377.3 211.6 L378.5 205.9 L380.7 203.7 L386.4 203.1 L389.8 201.4 L393.3 201.4 L395.5 203.7 L392.1 207.1 L389.8 210.5 L386.4 216.2 L384.2 221.9 L386.4 226.4 L389.8 228.7 L387.6 229.8 L383.0 229.8 L379.6 233.3 L376.2 237.8 L373.9 242.4 L373.0 249.1 L375.2 254.8 L378.7 261.6 L383.2 265.0 L388.9 265.0 L393.5 267.3 L398.0 270.7 L401.4 274.2 L406.0 273.0 L410.5 269.6 L415.1 267.9 L419.7 269.0 L418.5 272.4 L414.0 275.3 L408.3 278.7 L403.7 283.3 L402.6 287.8 L404.8 293.5 L407.5 301.8 L409.8 308.7 L413.2 314.4 L416.6 318.9 L420.0 323.5 L422.9 328.0 L422.3 332.6 L424.6 337.1 L429.2 336.6 L434.8 336.0 L437.7 337.1 L434.8 340.5 L431.4 345.1 L428.5 350.0 L426.9 356.4 L428.0 363.2 L430.3 367.8 L434.8 369.5 L440.5 370.0 L445.1 369.5 L447.9 371.8 L446.2 375.7 L442.8 379.2 L438.3 382.6 L433.7 387.1 L429.2 390.5 L423.5 392.8 L417.8 394.0 L412.1 393.4 L406.4 391.7 L400.7 389.4 L395.5 385.5 L389.7 384.4 L385.1 387.2 L380.5 387.8 L376.0 386.6 L371.4 387.8 L366.9 389.5 L361.2 389.5 L355.5 390.6 L350.9 392.3 L347.5 395.7 L345.2 400.3 L343.0 406.0 L340.7 411.7 L339.6 417.4 L338.5 421.0 L337.8 426.8 L337.2 433.7 L334.4 439.4 L329.8 443.9 L324.2 446.8 L319.6 448.5 L315.5 452.5 L313.0 458.5 L311.3 465.2 L312.1 471.9 L311.3 477.6 L308.7 483.2 L305.3 488.9 L301.9 492.3 L296.2 493.5 L290.5 492.3 L284.8 491.2 L279.1 493.5 L274.6 494.4 L268.9 494.6 L263.2 491.8 L258.7 487.8 L256.4 482.1 L255.2 476.4 L256.4 470.7 L256.4 464.5 L260.9 461.6 L267.8 458.2 L273.5 453.7 L273.5 446.8 L271.2 441.0 L265.2 438.7 L259.8 433.4 L255.9 428.1 L253.9 422.8 L253.2 416.2 L255.9 409.5 L258.5 404.2 L254.5 397.6 L251.9 390.9 L246.6 388.3 L238.6 388.3 L230.6 389.6 L226.6 385.6 L228.5 377.0 L229.9 371.3 L234.5 366.8 L240.5 362.2 L245.1 357.7 L248.1 353.1 L252.7 347.0 L255.7 342.5 L254.2 336.4 L248.1 332.6 L240.5 328.8 L231.4 325.8 L225.3 322.8 L217.8 322.0 L214.0 323.8 L208.5 323.8 L211.2 318.8 L204.1 311.2 L199.0 307.6 L195.0 305.8 L191.6 301.2 L188.2 296.7 L184.8 292.1 L181.4 287.6 L179.1 281.9 L178.0 276.2 L179.1 270.5 L180.2 264.8 L183.7 260.2 L189.4 256.8 L195.0 253.4 L198.5 250.0 L199.2 242.8 L198.0 236.0 L195.7 230.3 L191.2 224.6 L185.5 220.0 L179.8 215.5 L174.1 212.1 L168.4 208.7 L165.0 204.1 L163.0 200.1 L158.4 199.3 L153.9 199.3 L149.3 199.3 L144.7 199.3 L141.0 200.8 L137.1 201.6 L135.6 197.8 L135.6 192.5 L133.4 187.9 L129.6 185.6 L125.0 184.9 L120.0 184.0 L115.0 183.0 L110.0 184.0 L105.0 185.0 L100.0 187.0 L95.0 189.0 L90.0 188.0 L85.0 186.0 L80.0 184.0 L75.0 182.0 L70.0 179.0 L65.0 176.0 L60.0 173.0 L57.0 169.0 L56.0 165.0 L57.0 162.0 L60.0 160.0 L65.0 159.5 L73.0 160.0 L78.0 158.0 L83.0 153.0 L84.6 147.1 L83.0 141.4 L78.5 136.9 L72.8 133.5 L67.1 130.0 L63.7 126.6 L63.1 120.9 L64.8 116.4 L68.2 113.0 L73.9 111.3 L78.5 112.4 L80.7 116.4 L84.2 119.8 L89.8 123.2 L95.5 126.1 L101.2 127.8 L106.9 128.9 L113.4 130.1 L120.7 129.1 L128.0 127.0 L134.2 121.8 L140.5 117.6 L146.8 113.4 L150.9 111.3 L156.1 113.4 L161.4 114.4 L166.6 115.5 L171.8 115.5 L174.9 111.3 L174.9 106.1 L173.9 100.9 L174.9 95.7 L178.1 91.5 L182.2 87.3 L186.4 83.1 L188.5 80.0 L189.3 75.2 L190.0 69.9 L190.6 64.6 L193.3 61.3 L198.6 60.6 L203.9 62.0 L209.2 64.6 L214.5 67.9 L219.8 69.9 L223.8 68.6 L229.1 67.3 L235.8 66.6 L242.4 67.3 L246.4 65.3 L251.4 63.0 L257.1 59.0 L262.8 55.6 L268.5 52.2 L274.2 47.1 L279.8 42.5 L284.4 39.1Z" fill="rgb(122,128,128)"/>
<g clip-path="url(#clipShape)">
<radialGradient id="bg11"><stop offset="0" stop-color="rgb(146,126,128)" stop-opacity="1.0"/><stop offset="1" stop-color="rgb(146,126,128)" stop-opacity="0"/></radialGradient><ellipse cx="270" cy="435" rx="80" ry="85" fill="url(#bg11)"/>
<radialGradient id="bg12"><stop offset="0" stop-color="rgb(140,130,128)" stop-opacity="1.0"/><stop offset="1" stop-color="rgb(140,130,128)" stop-opacity="0"/></radialGradient><ellipse cx="245" cy="360" rx="55" ry="40" fill="url(#bg12)"/>
<radialGradient id="bg13"><stop offset="0" stop-color="rgb(108,156,128)" stop-opacity="1.0"/><stop offset="1" stop-color="rgb(108,156,128)" stop-opacity="0"/></radialGradient><ellipse cx="215" cy="130" rx="45" ry="60" fill="url(#bg13)"/>
<radialGradient id="bg14"><stop offset="0" stop-color="rgb(124,142,128)" stop-opacity="1.0"/><stop offset="1" stop-color="rgb(124,142,128)" stop-opacity="0"/></radialGradient><ellipse cx="300" cy="250" rx="70" ry="50" fill="url(#bg14)"/>
<radialGradient id="bg15"><stop offset="0" stop-color="rgb(150,128,128)" stop-opacity="1.0"/><stop offset="1" stop-color="rgb(150,128,128)" stop-opacity="0"/></radialGradient><ellipse cx="225" cy="68" rx="28" ry="14" fill="url(#bg15)"/>
<radialGradient id="bg16"><stop offset="0" stop-color="rgb(110,140,128)" stop-opacity="1.0"/><stop offset="1" stop-color="rgb(110,140,128)" stop-opacity="0"/></radialGradient><ellipse cx="405" cy="350" rx="45" ry="45" fill="url(#bg16)"/>
<radialGradient id="bg17"><stop offset="0" stop-color="rgb(118,138,128)" stop-opacity="1.0"/><stop offset="1" stop-color="rgb(118,138,128)" stop-opacity="0"/></radialGradient><ellipse cx="360" cy="300" rx="40" ry="40" fill="url(#bg17)"/>
<radialGradient id="bg18"><stop offset="0" stop-color="rgb(112,134,128)" stop-opacity="1.0"/><stop offset="1" stop-color="rgb(112,134,128)" stop-opacity="0"/></radialGradient><ellipse cx="100" cy="150" rx="50" ry="40" fill="url(#bg18)"/>
<path d="M289.0 36.3 L293.5 36.8 L296.4 39.7 L296.9 43.7 L295.8 48.2 L292.4 51.1 L287.8 52.8 L283.3 52.2 L279.8 54.5 L275.3 57.3 L270.7 60.7 L266.2 64.2 L260.5 67.6 L254.8 69.8 L251.4 73.3 L249.6 79.0 L250.0 84.7 L250.7 91.4 L250.2 97.1 L248.5 102.8 L244.5 107.3 L243.3 111.9 L247.3 116.4 L249.0 121.0 L247.3 125.5 L244.5 130.1 L242.8 134.7 L241.2 139.0 L240.3 141.6 L244.9 148.3 L248.2 154.9 L248.9 161.6 L249.6 169.5 L251.6 176.2 L255.5 181.5 L259.5 188.1 L264.8 193.4 L271.5 196.8 L278.1 196.1 L284.8 190.8 L290.1 186.1 L294.0 182.9 L299.3 185.6 L305.9 186.2 L312.6 185.6 L317.9 187.6 L323.2 191.6 L328.5 195.5 L333.8 193.6 L337.8 188.9 L339.8 182.3 L342.5 178.3 L345.8 175.0 L349.8 173.6 L351.1 177.0 L350.4 182.3 L351.1 187.6 L353.7 192.9 L357.7 195.5 L362.5 196.3 L363.7 199.1 L359.1 203.7 L355.7 209.4 L354.6 216.2 L355.7 223.0 L359.1 226.4 L363.7 228.7 L368.2 227.6 L372.8 223.0 L375.0 217.3 L377.3 211.6 L378.5 205.9 L380.7 203.7 L386.4 203.1 L389.8 201.4 L393.3 201.4 L395.5 203.7 L392.1 207.1 L389.8 210.5 L386.4 216.2 L384.2 221.9 L386.4 226.4 L389.8 228.7 L387.6 229.8 L383.0 229.8 L379.6 233.3 L376.2 237.8 L373.9 242.4 L373.0 249.1 L375.2 254.8 L378.7 261.6 L383.2 265.0 L388.9 265.0 L393.5 267.3 L398.0 270.7 L401.4 274.2 L406.0 273.0 L410.5 269.6 L415.1 267.9 L419.7 269.0 L418.5 272.4 L414.0 275.3 L408.3 278.7 L403.7 283.3 L402.6 287.8 L404.8 293.5 L407.5 301.8 L409.8 308.7 L413.2 314.4 L416.6 318.9 L420.0 323.5 L422.9 328.0 L422.3 332.6 L424.6 337.1 L429.2 336.6 L434.8 336.0 L437.7 337.1 L434.8 340.5 L431.4 345.1 L428.5 350.0 L426.9 356.4 L428.0 363.2 L430.3 367.8 L434.8 369.5 L440.5 370.0 L445.1 369.5 L447.9 371.8 L446.2 375.7 L442.8 379.2 L438.3 382.6 L433.7 387.1 L429.2 390.5 L423.5 392.8 L417.8 394.0 L412.1 393.4 L406.4 391.7 L400.7 389.4 L395.5 385.5 L389.7 384.4 L385.1 387.2 L380.5 387.8 L376.0 386.6 L371.4 387.8 L366.9 389.5 L361.2 389.5 L355.5 390.6 L350.9 392.3 L347.5 395.7 L345.2 400.3 L343.0 406.0 L340.7 411.7 L339.6 417.4 L338.5 421.0 L337.8 426.8 L337.2 433.7 L334.4 439.4 L329.8 443.9 L324.2 446.8 L319.6 448.5 L315.5 452.5 L313.0 458.5 L311.3 465.2 L312.1 471.9 L311.3 477.6 L308.7 483.2 L305.3 488.9 L301.9 492.3 L296.2 493.5 L290.5 492.3 L284.8 491.2 L279.1 493.5 L274.6 494.4 L268.9 494.6 L263.2 491.8 L258.7 487.8 L256.4 482.1 L255.2 476.4 L256.4 470.7 L256.4 464.5 L260.9 461.6 L267.8 458.2 L273.5 453.7 L273.5 446.8 L271.2 441.0 L265.2 438.7 L259.8 433.4 L255.9 428.1 L253.9 422.8 L253.2 416.2 L255.9 409.5 L258.5 404.2 L254.5 397.6 L251.9 390.9 L246.6 388.3 L238.6 388.3 L230.6 389.6 L226.6 385.6 L228.5 377.0 L229.9 371.3 L234.5 366.8 L240.5 362.2 L245.1 357.7 L248.1 353.1 L252.7 347.0 L255.7 342.5 L254.2 336.4 L248.1 332.6 L240.5 328.8 L231.4 325.8 L225.3 322.8 L217.8 322.0 L214.0 323.8 L208.5 323.8 L211.2 318.8 L204.1 311.2 L199.0 307.6 L195.0 305.8 L191.6 301.2 L188.2 296.7 L184.8 292.1 L181.4 287.6 L179.1 281.9 L178.0 276.2 L179.1 270.5 L180.2 264.8 L183.7 260.2 L189.4 256.8 L195.0 253.4 L198.5 250.0 L199.2 242.8 L198.0 236.0 L195.7 230.3 L191.2 224.6 L185.5 220.0 L179.8 215.5 L174.1 212.1 L168.4 208.7 L165.0 204.1 L163.0 200.1 L158.4 199.3 L153.9 199.3 L149.3 199.3 L144.7 199.3 L141.0 200.8 L137.1 201.6 L135.6 197.8 L135.6 192.5 L133.4 187.9 L129.6 185.6 L125.0 184.9 L120.0 184.0 L115.0 183.0 L110.0 184.0 L105.0 185.0 L100.0 187.0 L95.0 189.0 L90.0 188.0 L85.0 186.0 L80.0 184.0 L75.0 182.0 L70.0 179.0 L65.0 176.0 L60.0 173.0 L57.0 169.0 L56.0 165.0 L57.0 162.0 L60.0 160.0 L65.0 159.5 L73.0 160.0 L78.0 158.0 L83.0 153.0 L84.6 147.1 L83.0 141.4 L78.5 136.9 L72.8 133.5 L67.1 130.0 L63.7 126.6 L63.1 120.9 L64.8 116.4 L68.2 113.0 L73.9 111.3 L78.5 112.4 L80.7 116.4 L84.2 119.8 L89.8 123.2 L95.5 126.1 L101.2 127.8 L106.9 128.9 L113.4 130.1 L120.7 129.1 L128.0 127.0 L134.2 121.8 L140.5 117.6 L146.8 113.4 L150.9 111.3 L156.1 113.4 L161.4 114.4 L166.6 115.5 L171.8 115.5 L174.9 111.3 L174.9 106.1 L173.9 100.9 L174.9 95.7 L178.1 91.5 L182.2 87.3 L186.4 83.1 L188.5 80.0 L189.3 75.2 L190.0 69.9 L190.6 64.6 L193.3 61.3 L198.6 60.6 L203.9 62.0 L209.2 64.6 L214.5 67.9 L219.8 69.9 L223.8 68.6 L229.1 67.3 L235.8 66.6 L242.4 67.3 L246.4 65.3 L251.4 63.0 L257.1 59.0 L262.8 55.6 L268.5 52.2 L274.2 47.1 L279.8 42.5 L284.4 39.1Z" fill="none" stroke="rgb(150,128,128)" stroke-width="5" stroke-opacity="0.8"/>
</g></g>
<g filter="url(#soft)">
<path d="M202.8 129.9 L207.3 127.6 L212.7 127.2 L218.0 129.1 L222.5 132.1 L222.5 136.7 L219.5 140.5 L215.7 144.3 L211.9 148.1 L207.3 149.6 L203.5 148.8 L201.3 145.0 L200.5 139.7 L201.3 134.4Z" fill="url(#hot1)" />
<path d="M241.7 237.1 L247.0 236.4 L250.8 238.7 L251.6 243.2 L250.8 247.8 L249.3 252.3 L247.8 256.1 L244.7 256.9 L242.5 253.8 L240.2 249.3 L239.4 244.7 L239.8 240.2Z" fill="url(#hot2)" />
<path d="M257.0 273.0 L262.0 271.5 L267.0 274.0 L268.5 279.0 L266.0 283.0 L261.0 284.0 L257.5 281.0Z" fill="url(#hot2)" />
<path d="M342.5 302.5 L346.5 302.0 L348.0 306.0 L346.0 310.0 L342.5 308.5Z" fill="url(#hot1)" />
</g>
<text font-size="27.5" font-family="'Liberation Sans', sans-serif"><tspan x="50.3" y="72">(</tspan><tspan x="59.6" y="72" font-size="26">b</tspan><tspan x="76.9" y="72">)</tspan></text>
<path d="M420.15 51.5 L420.15 62.3 L417.95 62.3Z" fill="#111"/>
<path d="M420.15 51.5 L422.34999999999997 62.3 L420.15 62.3Z" fill="#8a8a8a"/>
<path d="M420.15 91.3 L420.15 80.3 L422.34999999999997 80.3Z" fill="#111"/>
<path d="M420.15 91.3 L417.95 80.3 L420.15 80.3Z" fill="#8a8a8a"/>
<line x1="398.95" y1="71.6" x2="406.15" y2="71.6" stroke="#222" stroke-width="1.1"/>
<ellipse cx="406.54999999999995" cy="71.7" rx="3.7" ry="1.7" fill="#111"/>
<line x1="434.15" y1="71.6" x2="440.95" y2="71.6" stroke="#222" stroke-width="1.1"/>
<ellipse cx="433.95" cy="71.7" rx="3.7" ry="1.7" fill="#111"/>
<circle cx="420.15" cy="71.3" r="9.7" fill="#fff" stroke="#111" stroke-width="1.9"/>
<text x="420.15" y="47.0" text-anchor="middle" font-size="7.3" font-weight="bold" font-family="'Liberation Sans', sans-serif" fill="#3a3a3a">N</text>
<text x="420.15" y="101.4" text-anchor="middle" font-size="7.3" font-weight="bold" font-family="'Liberation Sans', sans-serif" fill="#3a3a3a">S</text>
<text x="393.95" y="74.8" text-anchor="middle" font-size="7.3" font-weight="bold" font-family="'Liberation Sans', sans-serif" fill="#444">W</text>
<text x="446.34999999999997" y="74.8" text-anchor="middle" font-size="7.3" font-weight="bold" font-family="'Liberation Sans', sans-serif" fill="#444">E</text>
<rect x="56" y="465.5" width="74.6" height="14.5" fill="#000"/>
<rect x="130.6" y="465.5" width="74.4" height="14.5" fill="#fff" stroke="#444" stroke-width="1"/>
<text x="56.5" y="456.3" text-anchor="middle" font-size="16.3" font-family="'Liberation Sans', sans-serif">0</text>
<text x="129.5" y="456.3" text-anchor="middle" font-size="16.3" font-family="'Liberation Sans', sans-serif">1</text>
<text x="200" y="456.3" font-size="16.3" font-family="'Liberation Sans', sans-serif">2 Km</text>
<text x="60.7" y="206.1" font-size="16.4" font-weight="bold" font-family="'Liberation Sans', sans-serif">Class</text>
<rect x="67.9" y="214.0" width="35" height="17.3" fill="#FF0000" stroke="#6a6a6a" stroke-width="1"/>
<text x="107.9" y="227.2" font-size="12" font-family="'Liberation Sans', sans-serif" fill="#222">2</text>
<rect x="67.9" y="237.1" width="35" height="17.3" fill="#005CE6" stroke="#6a6a6a" stroke-width="1"/>
<text x="107.9" y="250.3" font-size="12" font-family="'Liberation Sans', sans-serif" fill="#222">4</text>
<rect x="67.9" y="260.1" width="35" height="17.3" fill="#55FF00" stroke="#6a6a6a" stroke-width="1"/>
<text x="107.9" y="273.3" font-size="12" font-family="'Liberation Sans', sans-serif" fill="#222">7</text>
<rect x="67.9" y="283.2" width="35" height="17.3" fill="#E400A8" stroke="#6a6a6a" stroke-width="1"/>
<text x="107.9" y="296.4" font-size="12" font-family="'Liberation Sans', sans-serif" fill="#222">8</text>
<rect x="67.9" y="306.3" width="35" height="17.3" fill="#FFFF00" stroke="#6a6a6a" stroke-width="1"/>
<text x="107.9" y="319.5" font-size="12" font-family="'Liberation Sans', sans-serif" fill="#222">9</text>
<rect x="67.9" y="329.4" width="35" height="17.3" fill="#73DFFF" stroke="#6a6a6a" stroke-width="1"/>
<text x="107.9" y="342.6" font-size="12" font-family="'Liberation Sans', sans-serif" fill="#222">10</text>
<rect x="67.9" y="352.4" width="35" height="17.3" fill="#FFAA00" stroke="#6a6a6a" stroke-width="1"/>
<text x="107.9" y="365.6" font-size="12" font-family="'Liberation Sans', sans-serif" fill="#222">11</text>
<rect x="67.9" y="375.5" width="35" height="17.3" fill="#0046A8" stroke="#6a6a6a" stroke-width="1"/>
<text x="107.9" y="388.7" font-size="12" font-family="'Liberation Sans', sans-serif" fill="#222">12</text>
<rect x="67.9" y="398.6" width="35" height="17.3" fill="#7010DD" stroke="#6a6a6a" stroke-width="1"/>
<text x="107.9" y="411.8" font-size="12" font-family="'Liberation Sans', sans-serif" fill="#222">13</text>
<rect x="67.9" y="421.6" width="35" height="17.3" fill="#A3FF73" stroke="#6a6a6a" stroke-width="1"/>
<text x="107.9" y="434.8" font-size="12" font-family="'Liberation Sans', sans-serif" fill="#222">14</text><rect x="39.1" y="30.5" width="428.1" height="472.6" fill="none" stroke="#2e2e2e" stroke-width="1.5"/>
<line x1="71" y1="24.0" x2="71" y2="30.5" stroke="#111" stroke-width="1.6"/>
<line x1="71" y1="503.1" x2="71" y2="509.40000000000003" stroke="#111" stroke-width="1.6"/>
<line x1="220" y1="24.0" x2="220" y2="30.5" stroke="#111" stroke-width="1.6"/>
<line x1="220" y1="503.1" x2="220" y2="509.40000000000003" stroke="#111" stroke-width="1.6"/>
<line x1="368.6" y1="24.0" x2="368.6" y2="30.5" stroke="#111" stroke-width="1.6"/>
<line x1="368.6" y1="503.1" x2="368.6" y2="509.40000000000003" stroke="#111" stroke-width="1.6"/>
<line x1="32.4" y1="81.3" x2="39.1" y2="81.3" stroke="#111" stroke-width="1.6"/>
<line x1="467.20000000000005" y1="81.3" x2="474.20000000000005" y2="81.3" stroke="#111" stroke-width="1.6"/>
<line x1="32.4" y1="229.6" x2="39.1" y2="229.6" stroke="#111" stroke-width="1.6"/>
<line x1="467.20000000000005" y1="229.6" x2="474.20000000000005" y2="229.6" stroke="#111" stroke-width="1.6"/>
<line x1="32.4" y1="378.9" x2="39.1" y2="378.9" stroke="#111" stroke-width="1.6"/>
<line x1="467.20000000000005" y1="378.9" x2="474.20000000000005" y2="378.9" stroke="#111" stroke-width="1.6"/>
<text transform="translate(71.5 18) scale(1 1.1)" text-anchor="middle" font-size="15.4" font-weight="bold" font-family="'Liberation Sans', sans-serif">576000</text>
<text transform="translate(71.5 525.2) scale(1 1.1)" text-anchor="middle" font-size="15.4" font-weight="bold" font-family="'Liberation Sans', sans-serif">576000</text>
<text transform="translate(220.4 18) scale(1 1.1)" text-anchor="middle" font-size="15.4" font-weight="bold" font-family="'Liberation Sans', sans-serif">578000</text>
<text transform="translate(220.4 525.2) scale(1 1.1)" text-anchor="middle" font-size="15.4" font-weight="bold" font-family="'Liberation Sans', sans-serif">578000</text>
<text transform="translate(369 18) scale(1 1.1)" text-anchor="middle" font-size="15.4" font-weight="bold" font-family="'Liberation Sans', sans-serif">580000</text>
<text transform="translate(369 525.2) scale(1 1.1)" text-anchor="middle" font-size="15.4" font-weight="bold" font-family="'Liberation Sans', sans-serif">580000</text>
<text transform="translate(26.1 81.8) rotate(-90) scale(1 1.1)" text-anchor="middle" font-size="15.2" font-weight="bold" font-family="'Liberation Sans', sans-serif">9336000</text>
<text transform="translate(489.1 81.8) rotate(-90) scale(1 1.1)" text-anchor="middle" font-size="15.2" font-weight="bold" font-family="'Liberation Sans', sans-serif">9336000</text>
<text transform="translate(26.1 230.6) rotate(-90) scale(1 1.1)" text-anchor="middle" font-size="15.2" font-weight="bold" font-family="'Liberation Sans', sans-serif">9334000</text>
<text transform="translate(489.1 230.6) rotate(-90) scale(1 1.1)" text-anchor="middle" font-size="15.2" font-weight="bold" font-family="'Liberation Sans', sans-serif">9334000</text>
<text transform="translate(26.1 379.7) rotate(-90) scale(1 1.1)" text-anchor="middle" font-size="15.2" font-weight="bold" font-family="'Liberation Sans', sans-serif">9332000</text>
<text transform="translate(489.1 379.7) rotate(-90) scale(1 1.1)" text-anchor="middle" font-size="15.2" font-weight="bold" font-family="'Liberation Sans', sans-serif">9332000</text>
</g>
</svg>
</body></html>
